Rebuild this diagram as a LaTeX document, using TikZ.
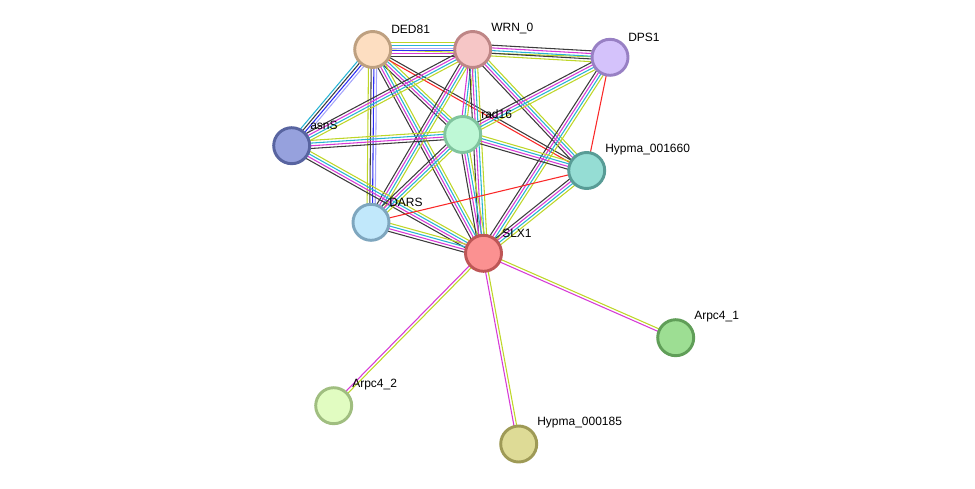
\documentclass[tikz,border=0pt]{standalone}
\usepackage{fontspec}
\setmainfont{Liberation Sans}
\usetikzlibrary{calc,backgrounds}
\definecolor{ctm}{RGB}{190,214,40}
\definecolor{cex}{RGB}{214,58,214}
\definecolor{cdb}{RGB}{40,180,212}
\definecolor{cco}{RGB}{60,60,60}
\definecolor{cfu}{RGB}{250,40,40}
\definecolor{ccc}{RGB}{45,45,245}
\definecolor{cho}{RGB}{165,165,250}
\newcommand\stredge[3]{%
  \foreach \cc [count=\ii] in {#3} {\global\let\nnmax\ii}%
  \foreach \cc [count=\ii] in {#3} {%
    \pgfmathsetmacro\oo{(\ii-(\nnmax+1)/2)*2.7*0.75}%
    \draw[color=\cc, line width=0.8pt]
      ($(#1.center)!\oo pt!90:(#2.center)$) -- ($(#2.center)!\oo pt!-90:(#1.center)$);
  }%
}
\tikzset{
  prot/.style={circle, line width=2.2pt, minimum size=27pt, inner sep=0pt},
  lbl/.style={anchor=west, inner sep=0pt, font=\fontsize{9}{10}\selectfont, text=black}
}
\begin{document}
\begin{tikzpicture}[x=0.75pt, y=-0.75pt]
\useasboundingbox (0,0) rectangle (975,489);
% nodes
\node[prot, fill={rgb,255:red,253;green,222;blue,193}, draw={rgb,255:red,190;green,160;blue,128}] (DED) at (372.7,49.5) {};
\node[prot, fill={rgb,255:red,246;green,198;blue,198}, draw={rgb,255:red,190;green,134;blue,134}] (WRN) at (472.7,49.5) {};
\node[prot, fill={rgb,255:red,212;green,194;blue,251}, draw={rgb,255:red,152;green,128;blue,196}] (DPS) at (610,57.3) {};
\node[prot, fill={rgb,255:red,150;green,161;blue,221}, draw={rgb,255:red,88;green,100;blue,160}] (ASN) at (291.7,145.7) {};
\node[prot, fill={rgb,255:red,190;green,248;blue,214}, draw={rgb,255:red,128;green,196;blue,158}] (RAD) at (462.7,134.5) {};
\node[prot, fill={rgb,255:red,149;green,221;blue,212}, draw={rgb,255:red,88;green,156;blue,150}] (HYA) at (586.7,170.5) {};
\node[prot, fill={rgb,255:red,193;green,232;blue,251}, draw={rgb,255:red,126;green,166;blue,190}] (DARS) at (371,222.3) {};
\node[prot, fill={rgb,255:red,251;green,145;blue,145}, draw={rgb,255:red,190;green,86;blue,86}] (SLX) at (483.5,253.3) {};
\node[prot, fill={rgb,255:red,157;green,222;blue,147}, draw={rgb,255:red,96;green,158;blue,88}] (AR1) at (675.7,337.7) {};
\node[prot, fill={rgb,255:red,225;green,252;blue,193}, draw={rgb,255:red,160;green,190;blue,128}] (AR2) at (333.7,405.7) {};
\node[prot, fill={rgb,255:red,222;green,219;blue,150}, draw={rgb,255:red,158;green,154;blue,86}] (HYB) at (518.7,444) {};
% labels
\node[lbl] (lDED) at (391,29) {DED81};
\node[lbl] (lWRN) at (491,29) {WRN\_0};
\node[lbl] (lDPS) at (628,37) {DPS1};
\node[lbl] (lASN) at (310,125.5) {asnS};
\node[lbl] (lRAD) at (481,114) {rad16};
\node[lbl] (lHYA) at (605,150) {Hypma\_001660};
\node[lbl] (lDARS) at (389,202) {DARS};
\node[lbl] (lSLX) at (502,233) {SLX1};
\node[lbl] (lAR1) at (694,317) {Arpc4\_1};
\node[lbl] (lAR2) at (352,385) {Arpc4\_2};
\node[lbl] (lHYB) at (537,423) {Hypma\_000185};
% edges
\begin{scope}[on background layer]
\stredge{DED}{DPS}{ctm}
\stredge{DED}{WRN}{cco,cex,ccc,cho,cdb,ctm}
\stredge{WRN}{DPS}{ctm,cco,cdb,cex,cco}
\stredge{DED}{ASN}{cdb,cco,ccc,cho}
\stredge{DED}{DARS}{ctm,cco,ccc,cho}
\stredge{DED}{RAD}{cco,cex,cdb,ctm}
\stredge{DED}{SLX}{cco,cex,cdb,ctm}
\stredge{DED}{HYA}{cfu,cco}
\stredge{WRN}{ASN}{cco,cex,cdb,ctm}
\stredge{WRN}{DARS}{cco,cex,cdb,ctm}
\stredge{WRN}{RAD}{cex,cdb,ctm}
\stredge{WRN}{SLX}{cco,cex,cdb,ctm}
\stredge{WRN}{HYA}{cco,cex,cdb,ctm}
\stredge{DPS}{RAD}{cco,cex,cdb,ctm}
\stredge{DPS}{SLX}{cco,cex,cdb,ctm}
\stredge{DPS}{HYA}{cfu}
\stredge{ASN}{RAD}{cco,cex,cdb,ctm}
\stredge{ASN}{SLX}{cco,cex,cdb,ctm}
\stredge{RAD}{DARS}{cco,cex,cdb,ctm}
\stredge{RAD}{SLX}{cco,cex,cdb,ctm}
\stredge{RAD}{HYA}{cco,cex,cdb,ctm}
\stredge{DARS}{SLX}{cco,cex,cdb,ctm}
\stredge{DARS}{HYA}{cfu}
\stredge{HYA}{SLX}{cco,cex,cdb,ctm}
\stredge{SLX}{AR1}{cex,ctm}
\stredge{SLX}{AR2}{cex,ctm}
\stredge{SLX}{HYB}{cex,ctm}
\end{scope}
\end{tikzpicture}
\end{document}
